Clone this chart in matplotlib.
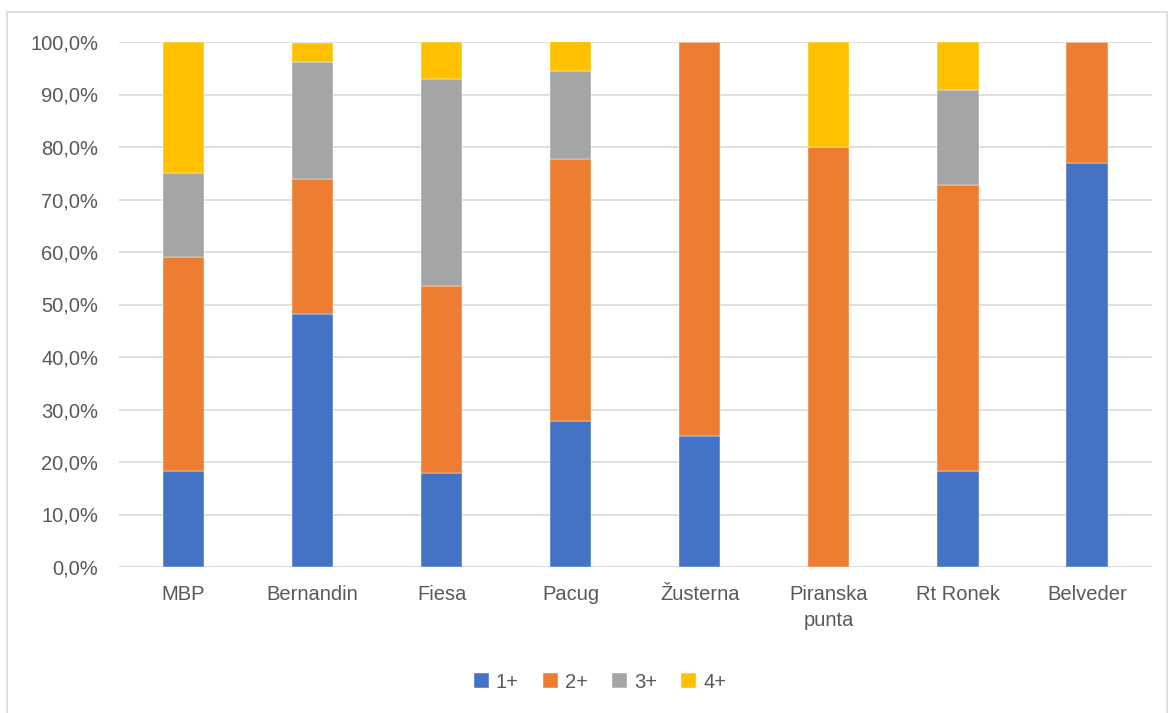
import numpy as np
import matplotlib.pyplot as plt
from matplotlib.patches import Rectangle
from matplotlib.ticker import FuncFormatter

plt.rcParams['font.family'] = ['Liberation Sans', 'DejaVu Sans']

# delež ulova po razredih (v %)
lokacije = ['MBP', 'Bernandin', 'Fiesa', 'Pacug', 'Žusterna',
            'Piranska\npunta', 'Rt Ronek', 'Belveder']
r1 = [18.2, 48.1, 17.9, 27.8, 25.0, 0.0, 18.2, 76.9]
r2 = [40.9, 25.9, 35.7, 50.0, 75.0, 80.0, 54.5, 23.1]
r3 = [15.9, 22.2, 39.3, 16.7, 0.0, 0.0, 18.2, 0.0]
r4 = [25.0, 3.7, 7.1, 5.6, 0.0, 20.0, 9.1, 0.0]
serije = ['1+', '2+', '3+', '4+']
barve = ['#4472c4', '#ed7d31', '#a5a5a5', '#ffc000']

fig = plt.figure(figsize=(11.69, 7.13), dpi=100)
ax = fig.add_axes([119 / 1169, 146 / 713, 1032.5 / 1169, 525 / 713])

x = np.arange(len(lokacije))
dno = np.zeros(len(lokacije))
for vals, ime, c in zip([r1, r2, r3, r4], serije, barve):
    v = np.array(vals)
    ax.bar(x, v, 0.32, bottom=dno, color=c, label=ime,
           edgecolor='white', linewidth=0.3, zorder=3)
    dno += v

ax.set_xlim(-0.5, len(lokacije) - 0.5)
ax.set_ylim(0, 100)
ax.set_yticks(np.arange(0, 101, 10))
ax.yaxis.set_major_formatter(FuncFormatter(lambda v, p: f'{v:.1f}%'.replace('.', ',')))
ax.set_xticks(x)
ax.set_xticklabels(lokacije, linespacing=1.45)
ax.tick_params(axis='both', length=0, labelsize=14.5, labelcolor='#595959')
ax.tick_params(axis='y', pad=15)
ax.tick_params(axis='x', pad=13)
ax.grid(axis='y', color='#d9d9d9', linewidth=1.2, zorder=0)
for s in ax.spines.values():
    s.set_visible(False)
ax.axhline(0, color='#d9d9d9', linewidth=1.2, zorder=2)

leg = fig.legend(loc='center', bbox_to_anchor=(600 / 1169, 1 - 682 / 713), ncol=4,
                 frameon=False, fontsize=14.5, handlelength=0.75, handleheight=0.75,
                 handletextpad=0.35, columnspacing=1.2)
for t in leg.get_texts():
    t.set_color('#595959')

# okvir grafikona
fig.patches.append(Rectangle((7 / 1169, -0.01), 1160 / 1169, 1 - 12 / 713 + 0.01,
                             transform=fig.transFigure, fill=False,
                             edgecolor='#d9d9d9', linewidth=1.2))

fig.savefig('out.png', dpi=100)
